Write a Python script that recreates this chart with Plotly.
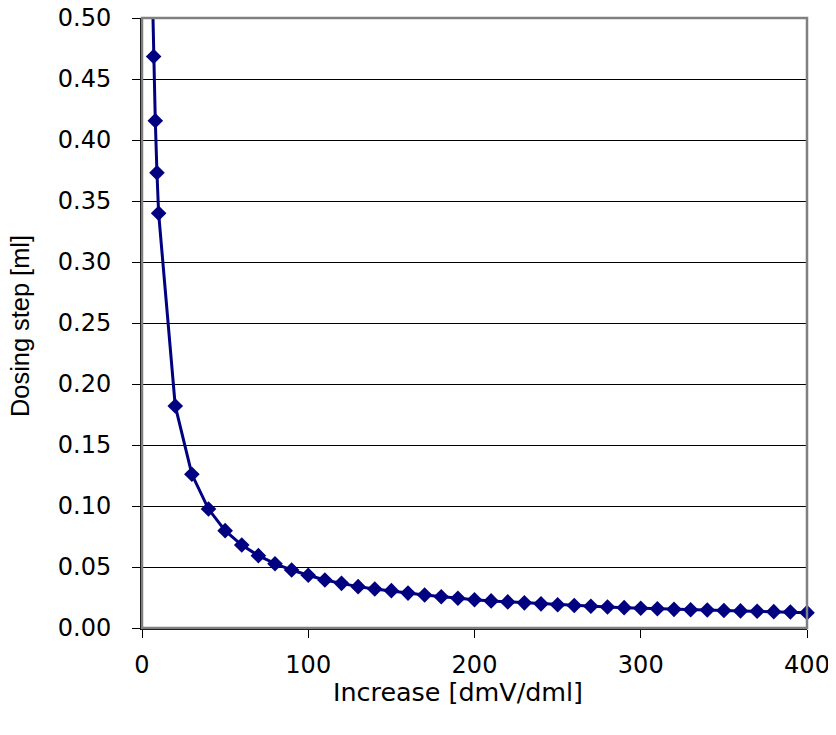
import plotly.graph_objects as go

# Data
increase = [6, 7, 8, 9, 10, 20, 30, 40, 50, 60, 70, 80, 90, 100, 110, 120, 130, 140,
            150, 160, 170, 180, 190, 200, 210, 220, 230, 240, 250, 260, 270, 280, 290,
            300, 310, 320, 330, 340, 350, 360, 370, 380, 390, 400]
dosing_step = [0.537, 0.4685, 0.4158, 0.3732, 0.340, 0.182, 0.126, 0.0975, 0.0798, 0.068,
               0.0593, 0.0527, 0.0475, 0.0432, 0.0393, 0.0366, 0.0339, 0.032,
               0.0306, 0.0286, 0.0270, 0.0256, 0.0244, 0.0231, 0.0222, 0.0214, 0.0206,
               0.0198, 0.0191, 0.0184, 0.0178, 0.0172, 0.0167, 0.0162, 0.0158, 0.0153,
               0.0150, 0.0147, 0.0143, 0.0140, 0.0137, 0.0134, 0.0131, 0.0126]

y_ticks = [0.0, 0.05, 0.10, 0.15, 0.20, 0.25, 0.30, 0.35, 0.40, 0.45, 0.50]
x_ticks = [0, 100, 200, 300, 400]
x_title = "Increase [dmV/dml]"
y_title = "Dosing step [ml]"

NAVY = "#000080"
WIDE = "DejaVu Sans, Liberation Sans, Arial, sans-serif"
ARIAL = "Liberation Sans, Arial, sans-serif"

fig = go.Figure()
fig.add_trace(go.Scatter(x=increase, y=dosing_step, mode="lines",
                         line=dict(color=NAVY, width=3), showlegend=False,
                         hoverinfo="skip"))
mx = [x for x, y in zip(increase, dosing_step) if y <= 0.5]
my = [y for y in dosing_step if y <= 0.5]
fig.add_trace(go.Scatter(x=mx, y=my, mode="markers", cliponaxis=False,
                         marker=dict(symbol="diamond", size=12, color=NAVY),
                         showlegend=False))

fig.update_layout(
    width=836, height=735,
    margin=dict(l=134, r=37, t=10, b=115),
    paper_bgcolor="white", plot_bgcolor="white",
    font=dict(family=WIDE, size=24, color="black"),
    shapes=[dict(type="rect", xref="paper", yref="paper", x0=0, x1=1, y0=0, y1=1,
                 line=dict(color="#808080", width=2.5), layer="above")],
    annotations=[
        dict(text=x_title, xref="paper", yref="paper", x=0.4752, y=-0.1049,
             xanchor="center", yanchor="middle", showarrow=False,
             font=dict(family=WIDE, size=25.4)),
        dict(text=y_title, xref="paper", yref="paper", x=-0.1835, y=0.495,
             xanchor="center", yanchor="middle", showarrow=False, textangle=-90,
             font=dict(family=ARIAL, size=25.4)),
    ],
)
fig.update_xaxes(range=[0, 400], tickvals=x_ticks, showgrid=False, zeroline=False,
                 showline=True, linecolor="black", linewidth=1.5,
                 ticks="outside", ticklen=8, tickcolor="black",
                 tickfont=dict(size=24), layer="below traces", automargin=False,
                 ticklabelstandoff=6, ticklabeloverflow="allow")
fig.update_yaxes(range=[0, 0.5], tickvals=y_ticks, tickformat=".2f",
                 showgrid=True, gridcolor="black", gridwidth=1, zeroline=False,
                 showline=True, linecolor="black", linewidth=2,
                 ticks="outside", ticklen=8, tickcolor="black",
                 tickfont=dict(size=24), layer="below traces", automargin=False,
                 ticklabelstandoff=16, ticklabeloverflow="allow")

fig.write_html("out.html")
